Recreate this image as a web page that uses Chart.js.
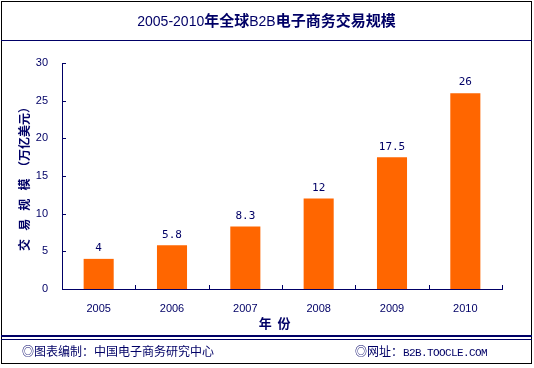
<!DOCTYPE html>
<html>
<head>
<meta charset="utf-8">
<script src="https://cdn.jsdelivr.net/npm/chart.js"></script>
<style>
  body { margin: 0; background: #fff; }
  #wrap { position: absolute; left: 0; top: 0; width: 534px; height: 368px; }
  #frame { position: absolute; left: 1px; top: 1px; width: 531px; height: 363px; border: 1px solid #000; box-sizing: border-box; }
  #title { position: absolute; left: 1px; top: 1px; width: 531px; height: 39px; border-bottom: 1px solid #000066;
           text-align: center; line-height: 38px; color: #000066; font-size: 15px; font-family: "Noto Sans CJK SC", sans-serif; }
  #title .n { font-family: "Liberation Sans", sans-serif; font-size: 14px; font-weight: normal; }
  #title b { font-weight: bold; }
  #line1 { position: absolute; left: 1px; top: 335px; width: 531px; height: 2px; background: #000066; }
  #line2 { position: absolute; left: 1px; top: 339px; width: 531px; height: 1px; background: #000066; }
  .foot { position: absolute; top: 343px; color: #000066; font-size: 12px; font-family: "Noto Sans CJK SC", sans-serif; line-height: 16px; }
  .mono { font-family: "Liberation Mono", monospace; font-size: 11px; letter-spacing: -0.6px; }
  canvas { position: absolute; left: 0; top: 0; }
</style>
</head>
<body>
<div id="wrap">
  <canvas id="c" width="534" height="368"></canvas>
  <div id="frame"></div>
  <div id="title"><span class="n">2005-2010</span><b>年全球</b><span class="n">B2B</span><b>电子商务交易规模</b></div>
  <div id="line1"></div>
  <div id="line2"></div>
  <div class="foot" style="left:22px">◎图表编制：中国电子商务研究中心</div>
  <div class="foot" style="left:355px">◎网址：<span class="mono">B2B.TOOCLE.COM</span></div>
</div>
<script>
var years = ["2005", "2006", "2007", "2008", "2009", "2010"];
var volume = [4, 5.8, 8.3, 12, 17.5, 26];
var valueLabels = ["4", "5.8", "8.3", "12", "17.5", "26"];

var navy = "#000066";

// small inside tick marks and value labels above bars
var extras = {
  id: 'extras',
  afterDatasetsDraw: function(chart) {
    var ctx = chart.ctx;
    var ys = chart.scales.y;
    var area = chart.chartArea;
    ctx.save();
    ctx.strokeStyle = navy;
    ctx.lineWidth = 1;
    ctx.beginPath();
    var step = (area.right - area.left) / years.length;
    for (var i = 0; i <= years.length; i++) {
      var x = Math.round(area.left + i * step) + 0.5;
      ctx.moveTo(x, area.bottom);
      ctx.lineTo(x, area.bottom - 4);
    }
    ys.ticks.forEach(function(t) {
      var y = Math.round(ys.getPixelForValue(t.value)) + 0.5;
      ctx.moveTo(area.left, y);
      ctx.lineTo(area.left + 4, y);
    });
    ctx.stroke();

    ctx.fillStyle = navy;
    ctx.font = '11px "DejaVu Sans Mono", monospace';
    ctx.textAlign = 'center';
    ctx.textBaseline = 'bottom';
    chart.getDatasetMeta(0).data.forEach(function(bar, i) {
      ctx.fillText(valueLabels[i], bar.x, bar.y - 5);
    });
    ctx.restore();
  }
};

new Chart(document.getElementById("c"), {
  type: 'bar',
  data: {
    labels: years,
    datasets: [{
      data: volume,
      backgroundColor: "#ff6600",
      barPercentage: 0.41,
      categoryPercentage: 1
    }]
  },
  options: {
    responsive: false,
    animation: false,
    layout: { padding: { top: 63, right: 32, left: 0, bottom: 32 } },
    plugins: { legend: { display: false }, tooltip: { enabled: false } },
    scales: {
      x: {
        grid: { display: false },
        border: { color: navy, width: 1 },
        ticks: { color: navy, font: { size: 11, family: '"Liberation Sans", sans-serif' }, padding: 5 },
        title: { display: true, text: "年  份     ", color: navy, padding: { top: 0, bottom: 5 },
                 font: { size: 13, weight: 'bold', family: '"Noto Sans CJK SC", sans-serif' } },
        afterFit: function(s) { s.height = 47; }
      },
      y: {
        min: 0, max: 30,
        grid: { display: false },
        border: { color: navy, width: 1 },
        ticks: { stepSize: 5, color: navy, font: { size: 11, family: '"Liberation Sans", sans-serif' }, padding: 6 },
        title: { display: true, text: "交   易   规   模  （万亿美元）", color: navy, padding: { top: 17, bottom: 0 },
                 font: { size: 12, weight: 'bold', family: '"Noto Sans CJK SC", sans-serif' } },
        afterFit: function(s) { s.width = 62; }
      }
    }
  },
  plugins: [extras]
});
</script>
</body>
</html>
